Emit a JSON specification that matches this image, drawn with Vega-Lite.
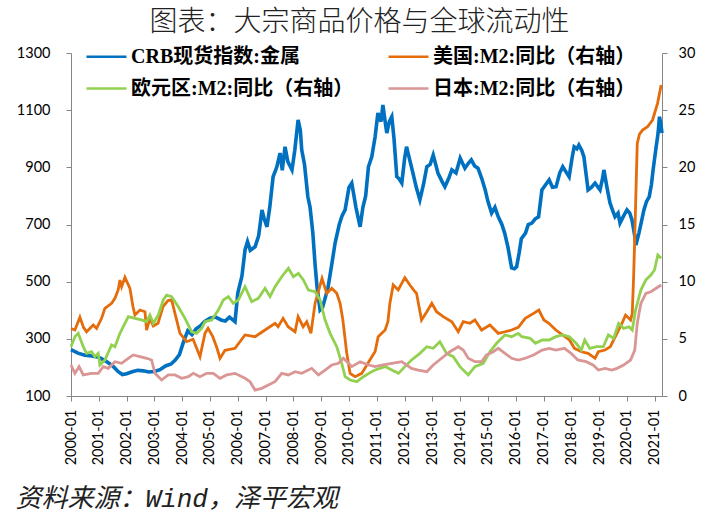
{
"$schema":"https://vega.github.io/schema/vega-lite/v6.json",
"width":591,"height":343,
"autosize":{"type":"none"},
"padding":{"left":71,"top":53,"right":53,"bottom":123},
"background":"white",
"title":{"text":"图表：大宗商品价格与全球流动性","font":"Noto Sans CJK SC","fontSize":28,"fontWeight":300,"color":"#222","offset":-2,"anchor":"middle","dx":-7},
"config":{"view":{"stroke":null},"axis":{"grid":false,"domainColor":"#868686","tickColor":"#868686","labelColor":"#000","labelFont":"Lato","labelFontSize":14.5,"tickSize":5}},
"data":{"values":[
{"s":"CRB","t":2000.00,"v":262},{"s":"CRB","t":2000.25,"v":250},{"s":"CRB","t":2000.50,"v":243},{"s":"CRB","t":2000.75,"v":240},{"s":"CRB","t":2001.00,"v":236},{"s":"CRB","t":2001.25,"v":222},{"s":"CRB","t":2001.50,"v":205},{"s":"CRB","t":2001.70,"v":185},{"s":"CRB","t":2001.85,"v":175},{"s":"CRB","t":2002.00,"v":178},{"s":"CRB","t":2002.20,"v":185},{"s":"CRB","t":2002.40,"v":190},{"s":"CRB","t":2002.60,"v":188},{"s":"CRB","t":2002.80,"v":184},{"s":"CRB","t":2003.00,"v":186},{"s":"CRB","t":2003.20,"v":192},{"s":"CRB","t":2003.40,"v":205},{"s":"CRB","t":2003.60,"v":212},{"s":"CRB","t":2003.75,"v":226},{"s":"CRB","t":2003.90,"v":245},{"s":"CRB","t":2004.05,"v":290},{"s":"CRB","t":2004.20,"v":328},{"s":"CRB","t":2004.35,"v":315},{"s":"CRB","t":2004.50,"v":335},{"s":"CRB","t":2004.65,"v":345},{"s":"CRB","t":2004.80,"v":360},{"s":"CRB","t":2005.00,"v":372},{"s":"CRB","t":2005.20,"v":376},{"s":"CRB","t":2005.40,"v":366},{"s":"CRB","t":2005.55,"v":362},{"s":"CRB","t":2005.70,"v":376},{"s":"CRB","t":2005.90,"v":360},{"s":"CRB","t":2006.00,"v":460},{"s":"CRB","t":2006.15,"v":520},{"s":"CRB","t":2006.26,"v":611},{"s":"CRB","t":2006.35,"v":640},{"s":"CRB","t":2006.45,"v":610},{"s":"CRB","t":2006.62,"v":622},{"s":"CRB","t":2006.75,"v":660},{"s":"CRB","t":2006.87,"v":751},{"s":"CRB","t":2006.95,"v":720},{"s":"CRB","t":2007.05,"v":692},{"s":"CRB","t":2007.15,"v":760},{"s":"CRB","t":2007.27,"v":867},{"s":"CRB","t":2007.40,"v":900},{"s":"CRB","t":2007.52,"v":950},{"s":"CRB","t":2007.60,"v":890},{"s":"CRB","t":2007.70,"v":972},{"s":"CRB","t":2007.80,"v":920},{"s":"CRB","t":2007.95,"v":891},{"s":"CRB","t":2008.05,"v":960},{"s":"CRB","t":2008.17,"v":1066},{"s":"CRB","t":2008.25,"v":1030},{"s":"CRB","t":2008.30,"v":961},{"s":"CRB","t":2008.40,"v":910},{"s":"CRB","t":2008.52,"v":797},{"s":"CRB","t":2008.60,"v":760},{"s":"CRB","t":2008.70,"v":670},{"s":"CRB","t":2008.78,"v":560},{"s":"CRB","t":2008.85,"v":482},{"s":"CRB","t":2008.96,"v":401},{"s":"CRB","t":2009.05,"v":410},{"s":"CRB","t":2009.15,"v":445},{"s":"CRB","t":2009.25,"v":482},{"s":"CRB","t":2009.38,"v":560},{"s":"CRB","t":2009.50,"v":635},{"s":"CRB","t":2009.65,"v":700},{"s":"CRB","t":2009.75,"v":730},{"s":"CRB","t":2009.86,"v":751},{"s":"CRB","t":2010.00,"v":830},{"s":"CRB","t":2010.10,"v":845},{"s":"CRB","t":2010.25,"v":760},{"s":"CRB","t":2010.40,"v":692},{"s":"CRB","t":2010.50,"v":760},{"s":"CRB","t":2010.60,"v":800},{"s":"CRB","t":2010.70,"v":902},{"s":"CRB","t":2010.82,"v":937},{"s":"CRB","t":2010.94,"v":1007},{"s":"CRB","t":2011.04,"v":1090},{"s":"CRB","t":2011.15,"v":1060},{"s":"CRB","t":2011.22,"v":1118},{"s":"CRB","t":2011.30,"v":1060},{"s":"CRB","t":2011.36,"v":1020},{"s":"CRB","t":2011.45,"v":1060},{"s":"CRB","t":2011.54,"v":1077},{"s":"CRB","t":2011.62,"v":1000},{"s":"CRB","t":2011.72,"v":867},{"s":"CRB","t":2011.80,"v":860},{"s":"CRB","t":2011.90,"v":845},{"s":"CRB","t":2012.00,"v":930},{"s":"CRB","t":2012.07,"v":972},{"s":"CRB","t":2012.15,"v":940},{"s":"CRB","t":2012.30,"v":880},{"s":"CRB","t":2012.42,"v":830},{"s":"CRB","t":2012.55,"v":786},{"s":"CRB","t":2012.68,"v":840},{"s":"CRB","t":2012.80,"v":902},{"s":"CRB","t":2012.92,"v":910},{"s":"CRB","t":2013.03,"v":943},{"s":"CRB","t":2013.12,"v":910},{"s":"CRB","t":2013.20,"v":880},{"s":"CRB","t":2013.35,"v":850},{"s":"CRB","t":2013.45,"v":832},{"s":"CRB","t":2013.58,"v":860},{"s":"CRB","t":2013.70,"v":891},{"s":"CRB","t":2013.85,"v":880},{"s":"CRB","t":2014.00,"v":932},{"s":"CRB","t":2014.17,"v":897},{"s":"CRB","t":2014.30,"v":915},{"s":"CRB","t":2014.40,"v":926},{"s":"CRB","t":2014.52,"v":905},{"s":"CRB","t":2014.64,"v":897},{"s":"CRB","t":2014.78,"v":860},{"s":"CRB","t":2014.90,"v":821},{"s":"CRB","t":2015.00,"v":780},{"s":"CRB","t":2015.13,"v":740},{"s":"CRB","t":2015.25,"v":760},{"s":"CRB","t":2015.37,"v":727},{"s":"CRB","t":2015.50,"v":700},{"s":"CRB","t":2015.60,"v":670},{"s":"CRB","t":2015.72,"v":620},{"s":"CRB","t":2015.85,"v":548},{"s":"CRB","t":2015.95,"v":545},{"s":"CRB","t":2016.03,"v":552},{"s":"CRB","t":2016.12,"v":600},{"s":"CRB","t":2016.20,"v":650},{"s":"CRB","t":2016.35,"v":670},{"s":"CRB","t":2016.45,"v":700},{"s":"CRB","t":2016.58,"v":705},{"s":"CRB","t":2016.70,"v":720},{"s":"CRB","t":2016.82,"v":727},{"s":"CRB","t":2016.94,"v":821},{"s":"CRB","t":2017.08,"v":840},{"s":"CRB","t":2017.20,"v":856},{"s":"CRB","t":2017.32,"v":830},{"s":"CRB","t":2017.45,"v":832},{"s":"CRB","t":2017.58,"v":880},{"s":"CRB","t":2017.69,"v":902},{"s":"CRB","t":2017.80,"v":885},{"s":"CRB","t":2017.92,"v":867},{"s":"CRB","t":2018.02,"v":930},{"s":"CRB","t":2018.10,"v":972},{"s":"CRB","t":2018.20,"v":965},{"s":"CRB","t":2018.27,"v":978},{"s":"CRB","t":2018.37,"v":960},{"s":"CRB","t":2018.45,"v":937},{"s":"CRB","t":2018.55,"v":860},{"s":"CRB","t":2018.60,"v":821},{"s":"CRB","t":2018.72,"v":830},{"s":"CRB","t":2018.85,"v":845},{"s":"CRB","t":2019.03,"v":821},{"s":"CRB","t":2019.12,"v":860},{"s":"CRB","t":2019.17,"v":891},{"s":"CRB","t":2019.28,"v":830},{"s":"CRB","t":2019.39,"v":775},{"s":"CRB","t":2019.50,"v":745},{"s":"CRB","t":2019.57,"v":727},{"s":"CRB","t":2019.68,"v":740},{"s":"CRB","t":2019.75,"v":705},{"s":"CRB","t":2019.88,"v":730},{"s":"CRB","t":2020.00,"v":751},{"s":"CRB","t":2020.10,"v":740},{"s":"CRB","t":2020.18,"v":716},{"s":"CRB","t":2020.28,"v":660},{"s":"CRB","t":2020.32,"v":628},{"s":"CRB","t":2020.43,"v":670},{"s":"CRB","t":2020.52,"v":710},{"s":"CRB","t":2020.61,"v":751},{"s":"CRB","t":2020.70,"v":780},{"s":"CRB","t":2020.80,"v":797},{"s":"CRB","t":2020.88,"v":840},{"s":"CRB","t":2020.94,"v":891},{"s":"CRB","t":2021.05,"v":972},{"s":"CRB","t":2021.12,"v":1020},{"s":"CRB","t":2021.17,"v":1077},{"s":"CRB","t":2021.22,"v":1050},{"s":"CRB","t":2021.26,"v":1020},
{"s":"US","t":2000.00,"v":5.9},{"s":"US","t":2000.14,"v":5.77},{"s":"US","t":2000.32,"v":6.88},{"s":"US","t":2000.45,"v":6.0},{"s":"US","t":2000.56,"v":5.62},{"s":"US","t":2000.80,"v":6.21},{"s":"US","t":2000.92,"v":5.92},{"s":"US","t":2001.10,"v":6.8},{"s":"US","t":2001.22,"v":7.67},{"s":"US","t":2001.46,"v":8.1},{"s":"US","t":2001.58,"v":8.54},{"s":"US","t":2001.70,"v":9.3},{"s":"US","t":2001.76,"v":10.14},{"s":"US","t":2001.82,"v":9.56},{"s":"US","t":2001.94,"v":10.38},{"s":"US","t":2002.12,"v":9.42},{"s":"US","t":2002.23,"v":7.81},{"s":"US","t":2002.30,"v":7.08},{"s":"US","t":2002.48,"v":7.52},{"s":"US","t":2002.66,"v":7.37},{"s":"US","t":2002.72,"v":5.77},{"s":"US","t":2002.84,"v":6.79},{"s":"US","t":2002.96,"v":6.12},{"s":"US","t":2003.13,"v":6.36},{"s":"US","t":2003.31,"v":7.81},{"s":"US","t":2003.49,"v":8.34},{"s":"US","t":2003.62,"v":8.4},{"s":"US","t":2003.74,"v":7.23},{"s":"US","t":2003.92,"v":5.48},{"s":"US","t":2004.16,"v":4.75},{"s":"US","t":2004.39,"v":4.96},{"s":"US","t":2004.55,"v":4.0},{"s":"US","t":2004.64,"v":3.44},{"s":"US","t":2004.82,"v":5.48},{"s":"US","t":2004.93,"v":5.92},{"s":"US","t":2005.10,"v":5.19},{"s":"US","t":2005.25,"v":4.2},{"s":"US","t":2005.36,"v":3.3},{"s":"US","t":2005.54,"v":4.0},{"s":"US","t":2005.90,"v":4.17},{"s":"US","t":2006.26,"v":5.34},{"s":"US","t":2006.62,"v":5.19},{"s":"US","t":2006.98,"v":5.77},{"s":"US","t":2007.34,"v":6.36},{"s":"US","t":2007.45,"v":6.06},{"s":"US","t":2007.63,"v":6.79},{"s":"US","t":2007.81,"v":6.06},{"s":"US","t":2008.06,"v":5.62},{"s":"US","t":2008.17,"v":6.94},{"s":"US","t":2008.35,"v":6.06},{"s":"US","t":2008.48,"v":6.5},{"s":"US","t":2008.63,"v":5.48},{"s":"US","t":2008.78,"v":8.1},{"s":"US","t":2008.88,"v":8.98},{"s":"US","t":2009.03,"v":10.29},{"s":"US","t":2009.20,"v":8.98},{"s":"US","t":2009.38,"v":9.42},{"s":"US","t":2009.56,"v":8.98},{"s":"US","t":2009.68,"v":8.1},{"s":"US","t":2009.78,"v":6.65},{"s":"US","t":2009.92,"v":3.73},{"s":"US","t":2010.04,"v":1.98},{"s":"US","t":2010.22,"v":1.69},{"s":"US","t":2010.46,"v":1.98},{"s":"US","t":2010.68,"v":2.86},{"s":"US","t":2010.94,"v":3.9},{"s":"US","t":2011.05,"v":5.19},{"s":"US","t":2011.30,"v":5.77},{"s":"US","t":2011.40,"v":6.5},{"s":"US","t":2011.47,"v":8.1},{"s":"US","t":2011.59,"v":9.71},{"s":"US","t":2011.77,"v":9.27},{"s":"US","t":2012.01,"v":10.35},{"s":"US","t":2012.19,"v":9.71},{"s":"US","t":2012.35,"v":9.2},{"s":"US","t":2012.43,"v":8.98},{"s":"US","t":2012.61,"v":6.65},{"s":"US","t":2012.80,"v":7.37},{"s":"US","t":2012.98,"v":8.1},{"s":"US","t":2013.15,"v":7.37},{"s":"US","t":2013.39,"v":6.94},{"s":"US","t":2013.70,"v":6.5},{"s":"US","t":2013.93,"v":5.62},{"s":"US","t":2014.11,"v":6.5},{"s":"US","t":2014.35,"v":6.36},{"s":"US","t":2014.53,"v":6.65},{"s":"US","t":2014.77,"v":5.77},{"s":"US","t":2015.07,"v":6.21},{"s":"US","t":2015.37,"v":5.48},{"s":"US","t":2015.61,"v":5.62},{"s":"US","t":2015.85,"v":5.77},{"s":"US","t":2016.09,"v":6.0},{"s":"US","t":2016.34,"v":6.79},{"s":"US","t":2016.64,"v":7.23},{"s":"US","t":2016.83,"v":7.52},{"s":"US","t":2017.01,"v":6.65},{"s":"US","t":2017.19,"v":6.36},{"s":"US","t":2017.44,"v":5.77},{"s":"US","t":2017.68,"v":5.34},{"s":"US","t":2017.93,"v":4.9},{"s":"US","t":2018.11,"v":4.17},{"s":"US","t":2018.36,"v":3.87},{"s":"US","t":2018.60,"v":3.73},{"s":"US","t":2018.85,"v":3.3},{"s":"US","t":2018.97,"v":3.87},{"s":"US","t":2019.21,"v":4.02},{"s":"US","t":2019.40,"v":4.31},{"s":"US","t":2019.64,"v":5.48},{"s":"US","t":2019.82,"v":6.36},{"s":"US","t":2019.95,"v":7.08},{"s":"US","t":2020.13,"v":6.65},{"s":"US","t":2020.19,"v":7.23},{"s":"US","t":2020.24,"v":10.5},{"s":"US","t":2020.28,"v":13.93},{"s":"US","t":2020.33,"v":18.5},{"s":"US","t":2020.37,"v":22.1},{"s":"US","t":2020.45,"v":22.9},{"s":"US","t":2020.56,"v":23.26},{"s":"US","t":2020.74,"v":23.55},{"s":"US","t":2020.92,"v":24.14},{"s":"US","t":2021.10,"v":25.6},{"s":"US","t":2021.23,"v":27.2},
{"s":"EU","t":2000.00,"v":4.31},{"s":"EU","t":2000.14,"v":5.19},{"s":"EU","t":2000.26,"v":5.48},{"s":"EU","t":2000.44,"v":4.31},{"s":"EU","t":2000.56,"v":3.73},{"s":"EU","t":2000.74,"v":3.87},{"s":"EU","t":2000.86,"v":3.44},{"s":"EU","t":2000.98,"v":3.73},{"s":"EU","t":2001.04,"v":2.71},{"s":"EU","t":2001.22,"v":3.15},{"s":"EU","t":2001.46,"v":4.46},{"s":"EU","t":2001.58,"v":4.31},{"s":"EU","t":2001.76,"v":5.48},{"s":"EU","t":2001.94,"v":6.36},{"s":"EU","t":2002.06,"v":6.94},{"s":"EU","t":2002.30,"v":6.79},{"s":"EU","t":2002.54,"v":6.65},{"s":"EU","t":2002.72,"v":6.5},{"s":"EU","t":2002.84,"v":7.08},{"s":"EU","t":2002.96,"v":6.36},{"s":"EU","t":2003.14,"v":7.08},{"s":"EU","t":2003.32,"v":8.4},{"s":"EU","t":2003.44,"v":8.83},{"s":"EU","t":2003.62,"v":8.69},{"s":"EU","t":2003.86,"v":7.81},{"s":"EU","t":2004.10,"v":6.79},{"s":"EU","t":2004.34,"v":5.62},{"s":"EU","t":2004.52,"v":5.48},{"s":"EU","t":2004.70,"v":5.92},{"s":"EU","t":2004.82,"v":6.5},{"s":"EU","t":2005.06,"v":6.65},{"s":"EU","t":2005.30,"v":7.52},{"s":"EU","t":2005.48,"v":8.4},{"s":"EU","t":2005.66,"v":8.69},{"s":"EU","t":2005.84,"v":8.1},{"s":"EU","t":2006.02,"v":8.4},{"s":"EU","t":2006.26,"v":9.56},{"s":"EU","t":2006.50,"v":8.25},{"s":"EU","t":2006.74,"v":8.54},{"s":"EU","t":2006.98,"v":9.42},{"s":"EU","t":2007.16,"v":8.69},{"s":"EU","t":2007.34,"v":9.56},{"s":"EU","t":2007.58,"v":10.43},{"s":"EU","t":2007.82,"v":11.17},{"s":"EU","t":2008.00,"v":10.43},{"s":"EU","t":2008.18,"v":10.73},{"s":"EU","t":2008.36,"v":10.15},{"s":"EU","t":2008.54,"v":9.27},{"s":"EU","t":2008.78,"v":9.12},{"s":"EU","t":2008.96,"v":8.4},{"s":"EU","t":2009.14,"v":6.65},{"s":"EU","t":2009.32,"v":5.48},{"s":"EU","t":2009.56,"v":4.31},{"s":"EU","t":2009.74,"v":2.86},{"s":"EU","t":2009.86,"v":1.69},{"s":"EU","t":2010.04,"v":1.4},{"s":"EU","t":2010.28,"v":1.25},{"s":"EU","t":2010.52,"v":1.69},{"s":"EU","t":2010.82,"v":2.13},{"s":"EU","t":2010.94,"v":2.27},{"s":"EU","t":2011.30,"v":2.57},{"s":"EU","t":2011.54,"v":2.27},{"s":"EU","t":2011.78,"v":1.98},{"s":"EU","t":2012.01,"v":2.57},{"s":"EU","t":2012.25,"v":3.15},{"s":"EU","t":2012.55,"v":3.73},{"s":"EU","t":2012.80,"v":4.31},{"s":"EU","t":2013.03,"v":4.17},{"s":"EU","t":2013.27,"v":4.75},{"s":"EU","t":2013.51,"v":3.73},{"s":"EU","t":2013.75,"v":3.44},{"s":"EU","t":2013.99,"v":2.57},{"s":"EU","t":2014.29,"v":1.84},{"s":"EU","t":2014.53,"v":2.57},{"s":"EU","t":2014.83,"v":2.86},{"s":"EU","t":2015.07,"v":3.87},{"s":"EU","t":2015.31,"v":4.61},{"s":"EU","t":2015.61,"v":5.34},{"s":"EU","t":2015.85,"v":5.19},{"s":"EU","t":2016.09,"v":5.48},{"s":"EU","t":2016.22,"v":5.19},{"s":"EU","t":2016.52,"v":5.04},{"s":"EU","t":2016.71,"v":4.61},{"s":"EU","t":2016.95,"v":4.9},{"s":"EU","t":2017.20,"v":4.9},{"s":"EU","t":2017.44,"v":5.19},{"s":"EU","t":2017.69,"v":5.34},{"s":"EU","t":2017.93,"v":5.19},{"s":"EU","t":2018.17,"v":4.61},{"s":"EU","t":2018.36,"v":4.02},{"s":"EU","t":2018.48,"v":4.9},{"s":"EU","t":2018.66,"v":4.17},{"s":"EU","t":2018.91,"v":4.31},{"s":"EU","t":2019.15,"v":4.31},{"s":"EU","t":2019.33,"v":5.34},{"s":"EU","t":2019.52,"v":5.04},{"s":"EU","t":2019.70,"v":6.36},{"s":"EU","t":2019.88,"v":5.92},{"s":"EU","t":2020.07,"v":6.06},{"s":"EU","t":2020.19,"v":5.77},{"s":"EU","t":2020.31,"v":7.52},{"s":"EU","t":2020.50,"v":9.27},{"s":"EU","t":2020.68,"v":10.15},{"s":"EU","t":2020.86,"v":10.58},{"s":"EU","t":2020.99,"v":11.02},{"s":"EU","t":2021.11,"v":12.33},{"s":"EU","t":2021.23,"v":12.04},
{"s":"JP","t":2000.00,"v":2.71},{"s":"JP","t":2000.14,"v":1.98},{"s":"JP","t":2000.29,"v":2.57},{"s":"JP","t":2000.44,"v":1.84},{"s":"JP","t":2000.74,"v":1.98},{"s":"JP","t":2000.98,"v":1.98},{"s":"JP","t":2001.16,"v":2.57},{"s":"JP","t":2001.34,"v":2.42},{"s":"JP","t":2001.58,"v":3.0},{"s":"JP","t":2001.82,"v":2.86},{"s":"JP","t":2002.06,"v":3.3},{"s":"JP","t":2002.24,"v":3.59},{"s":"JP","t":2002.48,"v":3.44},{"s":"JP","t":2002.72,"v":3.3},{"s":"JP","t":2002.90,"v":3.15},{"s":"JP","t":2003.02,"v":1.98},{"s":"JP","t":2003.26,"v":1.4},{"s":"JP","t":2003.50,"v":1.84},{"s":"JP","t":2003.74,"v":1.84},{"s":"JP","t":2003.98,"v":1.55},{"s":"JP","t":2004.22,"v":1.69},{"s":"JP","t":2004.40,"v":1.98},{"s":"JP","t":2004.64,"v":1.69},{"s":"JP","t":2004.88,"v":1.98},{"s":"JP","t":2005.12,"v":1.98},{"s":"JP","t":2005.36,"v":1.55},{"s":"JP","t":2005.60,"v":1.84},{"s":"JP","t":2005.90,"v":1.98},{"s":"JP","t":2006.26,"v":1.55},{"s":"JP","t":2006.44,"v":1.25},{"s":"JP","t":2006.62,"v":0.52},{"s":"JP","t":2006.86,"v":0.67},{"s":"JP","t":2007.10,"v":0.96},{"s":"JP","t":2007.34,"v":1.25},{"s":"JP","t":2007.58,"v":1.98},{"s":"JP","t":2007.82,"v":1.84},{"s":"JP","t":2008.06,"v":2.13},{"s":"JP","t":2008.30,"v":1.98},{"s":"JP","t":2008.66,"v":2.42},{"s":"JP","t":2008.90,"v":1.84},{"s":"JP","t":2009.14,"v":2.27},{"s":"JP","t":2009.38,"v":2.71},{"s":"JP","t":2009.62,"v":2.86},{"s":"JP","t":2009.80,"v":3.3},{"s":"JP","t":2009.98,"v":2.86},{"s":"JP","t":2010.10,"v":2.57},{"s":"JP","t":2010.40,"v":3.0},{"s":"JP","t":2010.70,"v":2.71},{"s":"JP","t":2010.94,"v":2.57},{"s":"JP","t":2011.18,"v":2.71},{"s":"JP","t":2011.54,"v":2.86},{"s":"JP","t":2011.90,"v":3.0},{"s":"JP","t":2012.25,"v":2.42},{"s":"JP","t":2012.49,"v":2.27},{"s":"JP","t":2012.80,"v":2.13},{"s":"JP","t":2013.03,"v":2.71},{"s":"JP","t":2013.33,"v":3.3},{"s":"JP","t":2013.63,"v":3.87},{"s":"JP","t":2013.93,"v":4.31},{"s":"JP","t":2014.11,"v":4.02},{"s":"JP","t":2014.29,"v":3.3},{"s":"JP","t":2014.53,"v":3.0},{"s":"JP","t":2014.77,"v":3.0},{"s":"JP","t":2014.95,"v":3.59},{"s":"JP","t":2015.19,"v":3.87},{"s":"JP","t":2015.37,"v":4.17},{"s":"JP","t":2015.61,"v":3.73},{"s":"JP","t":2015.85,"v":3.3},{"s":"JP","t":2016.09,"v":3.15},{"s":"JP","t":2016.34,"v":3.3},{"s":"JP","t":2016.64,"v":3.59},{"s":"JP","t":2016.95,"v":4.02},{"s":"JP","t":2017.20,"v":4.17},{"s":"JP","t":2017.44,"v":4.02},{"s":"JP","t":2017.75,"v":4.17},{"s":"JP","t":2017.99,"v":3.73},{"s":"JP","t":2018.23,"v":3.15},{"s":"JP","t":2018.53,"v":3.0},{"s":"JP","t":2018.78,"v":2.71},{"s":"JP","t":2018.97,"v":2.27},{"s":"JP","t":2019.21,"v":2.42},{"s":"JP","t":2019.46,"v":2.27},{"s":"JP","t":2019.64,"v":2.42},{"s":"JP","t":2019.88,"v":2.71},{"s":"JP","t":2020.13,"v":3.15},{"s":"JP","t":2020.28,"v":4.02},{"s":"JP","t":2020.37,"v":6.36},{"s":"JP","t":2020.50,"v":8.1},{"s":"JP","t":2020.68,"v":8.98},{"s":"JP","t":2020.86,"v":9.12},{"s":"JP","t":2021.05,"v":9.42},{"s":"JP","t":2021.23,"v":9.71}
]},
"encoding":{
 "x":{"field":"t","type":"quantitative","scale":{"domain":[2000,2021.26],"nice":false,"zero":false},
  "axis":{"values":[2000,2001,2002,2003,2004,2005,2006,2007,2008,2009,2010,2011,2012,2013,2014,2015,2016,2017,2018,2019,2020,2021],"labelExpr":"datum.value + '-01'","labelAngle":-90,"labelPadding":8,"labelFlush":false,"labelOverlap":false,
   "title":"资料来源：Wind，泽平宏观","titleFont":"Liberation Mono, Noto Sans CJK SC","titleFontStyle":"italic","titleFontSize":26,"titleFontWeight":"normal","titleColor":"#222","titleAnchor":"start","titleAlign":"left","titleBaseline":"alphabetic","titleX":-56,"titleY":110}},
 "color":{"field":"s","type":"nominal","scale":{"domain":["CRB","US","EU","JP"],"range":["#0070C0","#E46C0A","#92D050","#DA9694"]},
  "legend":{"orient":"none","legendX":14,"legendY":-18,"columns":2,"direction":"horizontal","title":null,"padding":0,"symbolType":"stroke","symbolSize":1600,"symbolStrokeWidth":2.5,"labelOffset":3,"columnPadding":29,"rowPadding":-12,"labelFont":"Liberation Serif, Noto Sans CJK SC","labelFontSize":20,"labelFontWeight":"bold","labelColor":"#000","labelLimit":400,
   "labelExpr":"{'CRB':'CRB现货指数:金属','US':'美国:M2:同比（右轴）','EU':'欧元区:M2:同比（右轴）','JP':'日本:M2:同比（右轴）'}[datum.label]"}}
},
"layer":[
{"transform":[{"filter":"datum.s === 'CRB'"}],
 "mark":{"type":"line","strokeWidth":3.6},
 "encoding":{
  "y":{"field":"v","type":"quantitative","scale":{"domain":[100,1300],"nice":false,"zero":false},
   "axis":{"values":[100,300,500,700,900,1100,1300],"format":"d","title":null,"labelPadding":16}}
 }},
{"transform":[{"filter":"datum.s !== 'CRB'"}],
 "mark":{"type":"line","strokeWidth":2.8},
 "encoding":{
  "y":{"field":"v","type":"quantitative","scale":{"domain":[0,30],"nice":false,"zero":false},
   "axis":{"orient":"right","values":[0,5,10,15,20,25,30],"format":"d","title":null,"labelPadding":11}}
 }}
],
"resolve":{"scale":{"y":"independent"}}
}
